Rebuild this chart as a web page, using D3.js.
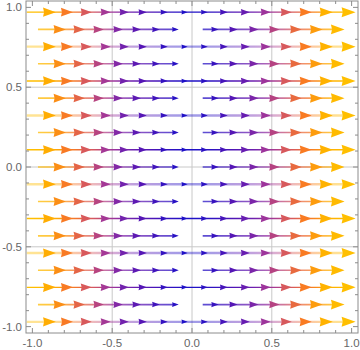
<!DOCTYPE html>
<html><head><meta charset="utf-8">
<script src="https://cdn.jsdelivr.net/npm/d3@7"></script>
<style>body{margin:0;background:#fff}</style></head>
<body>
<svg id="c" width="360" height="350"></svg>
<script>
// ---- data ----
const rowY = [0.97, 0.862, 0.754, 0.647, 0.539, 0.431, 0.323, 0.216, 0.108, 0.0,
              -0.108, -0.216, -0.323, -0.431, -0.539, -0.647, -0.754, -0.862, -0.97];
const rowKind = ["dark","gap","light","gap","dark","gap","light","gap","dark","gap",
                 "light","gap","dark","gap","light","gap","dark","gap","light"];
const fullTips = [-0.853, -0.746, -0.628, -0.509, -0.396, -0.283, -0.152, -0.027,
                  0.099, 0.224, 0.362, 0.493, 0.625, 0.750, 0.882, 1.025];
const gapLeftTips = [-0.790, -0.671, -0.552, -0.433, -0.320, -0.202, -0.083];
const gapRightTips = [0.167, 0.286, 0.417, 0.549, 0.687, 0.818, 0.956];
const fullStart = -1.035;
const gapLeftStart = -0.965;
const gapRightStart = 0.067;
const tickVals = [-1, -0.5, 0, 0.5, 1];
const tickLabels = ["-1.0", "-0.5", "0.0", "0.5", "1.0"];
const minorVals = [-1,-0.9,-0.8,-0.7,-0.6,-0.5,-0.4,-0.3,-0.2,-0.1,0,0.1,0.2,0.3,0.4,0.5,0.6,0.7,0.8,0.9,1];
const gridVals = [-0.5, 0, 0.5];
const colorDomain = [0, 0.15, 0.28, 0.38, 0.5, 0.63, 0.75, 0.86, 1];
const colorRange = ["#1a10c8", "#3312c0", "#5416b5", "#6b1fb0", "#a0359a", "#d95a5a", "#f97b22", "#ffb000", "#ffbf00"];

// ---- scales ----
const x = d3.scaleLinear().domain([-1.04, 1.04]).range([26, 358]);
const y = d3.scaleLinear().domain([-1.04, 1.04]).range([333, 1]);
const color = d3.scaleLinear().domain(colorDomain).range(colorRange).clamp(true);

const svg = d3.select("#c");
const defs = svg.append("defs");
const style = {
  dark:  {op: 1.0,  w: 1.4},
  light: {op: 0.42, w: 2.4},
  gap:   {op: 0.75, w: 1.7}
};

// grid
const g = svg.append("g");
g.selectAll("line.gx").data(gridVals).join("line")
  .attr("x1", d => x(d)).attr("x2", d => x(d)).attr("y1", y(-1.04)).attr("y2", y(1.04))
  .attr("stroke", "#c8c8c8").attr("stroke-width", 1);
g.selectAll("line.gy").data(gridVals).join("line")
  .attr("y1", d => y(d)).attr("y2", d => y(d)).attr("x1", x(-1.04)).attr("x2", x(1.04))
  .attr("stroke", "#c8c8c8").attr("stroke-width", 1);

// streamlines
let gid = 0;
function drawLine(yv, a, b, kind) {
  const id = "gr" + (gid++);
  const grad = defs.append("linearGradient").attr("id", id)
    .attr("gradientUnits", "userSpaceOnUse")
    .attr("x1", x(a)).attr("x2", x(b)).attr("y1", 0).attr("y2", 0);
  const n = 30;
  d3.range(n + 1).forEach(i => {
    const v = a + (b - a) * i / n;
    grad.append("stop").attr("offset", i / n).attr("stop-color", color(Math.abs(v)));
  });
  svg.append("line")
    .attr("x1", x(a)).attr("x2", x(b)).attr("y1", y(yv)).attr("y2", y(yv))
    .attr("stroke", `url(#${id})`).attr("stroke-width", style[kind].w)
    .attr("stroke-opacity", style[kind].op);
}
function drawHeads(yv, tips) {
  svg.append("g").selectAll("path").data(tips).join("path")
    .attr("d", t => {
      const L = 6 + 8 * Math.min(Math.abs(t), 1.0);
      const h = 0.36 * L;
      const tx = Math.min(x(t), 357.5), cy = y(yv);
      return `M${tx},${cy}L${tx - L},${cy - h}L${tx - L * 0.92},${cy}L${tx - L},${cy + h}Z`;
    })
    .attr("fill", t => color(Math.abs(t)));
}
rowY.forEach((yv, i) => {
  const kind = rowKind[i];
  if (kind === "gap") {
    drawLine(yv, gapLeftStart, gapLeftTips[gapLeftTips.length - 1] - 0.02, kind);
    drawLine(yv, gapRightStart, gapRightTips[gapRightTips.length - 1] - 0.03, kind);
    drawHeads(yv, gapLeftTips);
    drawHeads(yv, gapRightTips);
  } else {
    drawLine(yv, fullStart, fullTips[fullTips.length - 1] - 0.03, kind);
    drawHeads(yv, fullTips);
  }
});

// frame
const fc = "#8c8c8c";
svg.append("rect").attr("x", x(-1.04)).attr("y", y(1.04))
  .attr("width", x(1.04) - x(-1.04)).attr("height", y(-1.04) - y(1.04))
  .attr("fill", "none").attr("stroke", fc).attr("stroke-width", 1);

// ticks (inward, all sides)
const tk = svg.append("g").attr("stroke", fc).attr("stroke-width", 1);
minorVals.forEach(v => {
  const major = tickVals.some(t => Math.abs(t - v) < 1e-9);
  const len = major ? 5 : 3;
  tk.append("line").attr("x1", x(v)).attr("x2", x(v)).attr("y1", y(-1.04)).attr("y2", y(-1.04) - len);
  tk.append("line").attr("x1", x(v)).attr("x2", x(v)).attr("y1", y(1.04)).attr("y2", y(1.04) + len);
  tk.append("line").attr("y1", y(v)).attr("y2", y(v)).attr("x1", x(-1.04)).attr("x2", x(-1.04) + len);
  tk.append("line").attr("y1", y(v)).attr("y2", y(v)).attr("x1", x(1.04)).attr("x2", x(1.04) - len);
});

// labels
const lab = svg.append("g").attr("font-family", "Liberation Sans, Arial, sans-serif")
  .attr("font-size", 11.5).attr("fill", "#666");
tickVals.forEach((v, i) => {
  lab.append("text").attr("x", x(v)).attr("y", 347).attr("text-anchor", "middle").text(tickLabels[i]);
  lab.append("text").attr("x", 22).attr("y", y(v) + 4).attr("text-anchor", "end").text(tickLabels[i]);
});
</script>
</body></html>
